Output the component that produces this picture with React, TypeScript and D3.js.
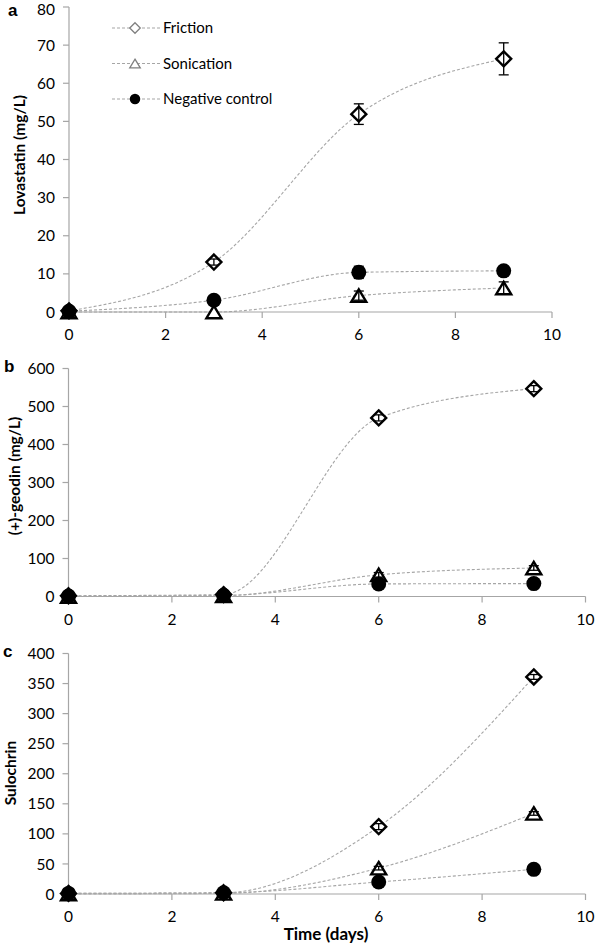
import React from "react";
import * as d3 from "d3";

const DAYS = [0, 3, 6, 9];
const X_TICKS = [0, 2, 4, 6, 8, 10];
const SERIES_NAMES = ["Friction", "Sonication", "Negative control"];

// Panel a: Lovastatin (mg/L)
const lovFriction = [0.3, 13.1, 51.9, 66.4];
const lovFrictionErr = [0.3, 0.8, 2.7, 4.2];
const lovSonication = [0, 0, 4.3, 6.3];
const lovSonicationErr = [0, 0, 1.2, 1.6];
const lovNegative = [0.2, 3.1, 10.4, 10.8];
const lovNegativeErr = [0.1, 0.5, 1.6, 0.6];
const lovTicks = [0, 10, 20, 30, 40, 50, 60, 70, 80];

// Panel b: (+)-geodin (mg/L)
const geoFriction = [2, 5, 470, 547];
const geoFrictionErr = [1, 2, 8, 8];
const geoSonication = [0, 2, 57, 75];
const geoSonicationErr = [0, 1, 6, 6];
const geoNegative = [1, 3, 33, 34];
const geoNegativeErr = [0.5, 1, 3, 3];
const geoTicks = [0, 100, 200, 300, 400, 500, 600];

// Panel c: Sulochrin
const sulFriction = [1, 2, 112, 361];
const sulFrictionErr = [0.5, 1, 5, 4];
const sulSonication = [0, 1, 43, 134];
const sulSonicationErr = [0, 0.5, 3, 3];
const sulNegative = [1, 2, 20, 41];
const sulNegativeErr = [0.5, 1, 2, 2];
const sulTicks = [0, 50, 100, 150, 200, 250, 300, 350, 400];

const FONT = "Lato, 'Open Sans', sans-serif";
const AXIS_COLOR = "#a6a6a6";
const LINE_COLOR = "#a6a6a6";

type Panel = {
  letter: string;
  letterX: number;
  letterY: number;
  title: string;
  titleX: number;
  titleY: number;
  x0: number;
  x1: number;
  yTop: number;
  yBottom: number;
  ticks: number[];
  series: { values: number[]; err: number[]; kind: string }[];
  legend?: boolean;
};

const panels: Panel[] = [
  {
    letter: "a",
    letterX: 8,
    letterY: 16,
    title: "Lovastatin (mg/L)",
    titleX: 25,
    titleY: 155,
    x0: 69,
    x1: 552,
    yTop: 7,
    yBottom: 312,
    ticks: lovTicks,
    series: [
      { values: lovFriction, err: lovFrictionErr, kind: "diamond" },
      { values: lovSonication, err: lovSonicationErr, kind: "triangle" },
      { values: lovNegative, err: lovNegativeErr, kind: "circle" },
    ],
    legend: true,
  },
  {
    letter: "b",
    letterX: 4,
    letterY: 372,
    title: "(+)-geodin (mg/L)",
    titleX: 20,
    titleY: 476,
    x0: 68.5,
    x1: 585.5,
    yTop: 368.5,
    yBottom: 596.5,
    ticks: geoTicks,
    series: [
      { values: geoFriction, err: geoFrictionErr, kind: "diamond" },
      { values: geoSonication, err: geoSonicationErr, kind: "triangle" },
      { values: geoNegative, err: geoNegativeErr, kind: "circle" },
    ],
  },
  {
    letter: "c",
    letterX: 3,
    letterY: 657,
    title: "Sulochrin",
    titleX: 16,
    titleY: 773,
    x0: 68.5,
    x1: 585.5,
    yTop: 653.5,
    yBottom: 894,
    ticks: sulTicks,
    series: [
      { values: sulFriction, err: sulFrictionErr, kind: "diamond" },
      { values: sulSonication, err: sulSonicationErr, kind: "triangle" },
      { values: sulNegative, err: sulNegativeErr, kind: "circle" },
    ],
  },
];

function Marker({ kind, x, y, s = 1, legend = false }: { kind: string; x: number; y: number; s?: number; legend?: boolean }) {
  const stroke = legend && kind !== "circle" ? "#7f7f7f" : "#000";
  const sw = legend ? 1.3 : 2.4;
  if (kind === "diamond") {
    const w = 7.5 * s, h = 7.5 * s;
    return <path d={`M${x},${y - h}L${x + w},${y}L${x},${y + h}L${x - w},${y}Z`} fill="#fff" stroke={stroke} strokeWidth={sw} />;
  }
  if (kind === "triangle") {
    const w = 7.5 * s, h = 6.2 * s;
    return <path d={`M${x},${y - h}L${x + w},${y + h}L${x - w},${y + h}Z`} fill="#fff" stroke={stroke} strokeWidth={sw} strokeLinejoin="miter" />;
  }
  return <circle cx={x} cy={y} r={7.5 * s} fill="#000" />;
}

function PanelView({ p }: { p: Panel }) {
  const x = d3.scaleLinear().domain([0, 10]).range([p.x0, p.x1]);
  const yMax = p.ticks[p.ticks.length - 1];
  const y = d3.scaleLinear().domain([0, yMax]).range([p.yBottom, p.yTop]);
  const line = d3
    .line<number>()
    .x((_, i) => x(DAYS[i]))
    .y((d) => y(d))
    .curve(d3.curveMonotoneX);
  return (
    <g>
      <text x={p.letterX} y={p.letterY} fontFamily="Arial, sans-serif" fontWeight="bold" fontSize={17}>
        {p.letter}
      </text>
      {/* y axis */}
      <line x1={p.x0} x2={p.x0} y1={p.yTop} y2={p.yBottom} stroke={AXIS_COLOR} strokeWidth={1.2} />
      {p.ticks.map((t) => (
        <g key={t}>
          <line x1={p.x0 - 6} x2={p.x0} y1={y(t)} y2={y(t)} stroke={AXIS_COLOR} strokeWidth={1.2} />
          <text x={p.x0 - 14} y={Math.max(y(t), 9.5)} dy="0.36em" textAnchor="end" fontFamily={FONT} fontSize={15.5} fill="#000">
            {t}
          </text>
        </g>
      ))}
      {/* x axis */}
      <line x1={p.x0} x2={p.x1} y1={p.yBottom} y2={p.yBottom} stroke={AXIS_COLOR} strokeWidth={1.2} />
      {X_TICKS.map((t) => (
        <g key={t}>
          <line x1={x(t)} x2={x(t)} y1={p.yBottom} y2={p.yBottom + 6} stroke={AXIS_COLOR} strokeWidth={1.2} />
          <text x={x(t)} y={p.yBottom + 28} textAnchor="middle" fontFamily={FONT} fontSize={15.5} fill="#000">
            {t}
          </text>
        </g>
      ))}
      <text
        transform={`translate(${p.titleX},${p.titleY}) rotate(-90)`}
        textAnchor="middle"
        fontFamily={FONT}
        fontWeight="bold"
        fontSize={15.5}
      >
        {p.title}
      </text>
      {/* lines */}
      {p.series.map((s, i) => (
        <path key={"l" + i} d={line(s.values) || ""} fill="none" stroke={LINE_COLOR} strokeWidth={1.1} strokeDasharray="3,2" />
      ))}
      {/* markers */}
      {p.series.map((s, i) => (
        <g key={"m" + i}>
          {s.values.map((v, j) => (
            <Marker key={j} kind={s.kind} x={x(DAYS[j])} y={y(v)} />
          ))}
        </g>
      ))}
      {/* error bars */}
      {p.series.map((s, i) => (
        <g key={"e" + i} stroke="#000" strokeWidth={1.3}>
          {s.values.map((v, j) => {
            const e = s.err[j];
            if (!e) return null;
            const cx = x(DAYS[j]);
            const t = y(v + e), b = y(v - e);
            return (
              <g key={j}>
                <line x1={cx} x2={cx} y1={t} y2={b} />
                <line x1={cx - 5} x2={cx + 5} y1={t} y2={t} />
                <line x1={cx - 5} x2={cx + 5} y1={b} y2={b} />
              </g>
            );
          })}
        </g>
      ))}
      {p.legend &&
        SERIES_NAMES.map((name, i) => {
          const ly = 28 + i * 35.5;
          return (
            <g key={name}>
              <line x1={112} x2={161} y1={ly} y2={ly} stroke={LINE_COLOR} strokeWidth={1.1} strokeDasharray="3,2" />
              <Marker kind={p.series[i].kind} x={135} y={ly} s={0.7} legend />
              <text x={163} y={ly} dy="0.36em" fontFamily={FONT} fontSize={15}>
                {name}
              </text>
            </g>
          );
        })}
    </g>
  );
}

export default function App() {
  return (
    <svg width={600} height={945} style={{ position: "absolute", left: 0, top: 0, background: "#fff" }}>
      <rect width={600} height={945} fill="#fff" />
      {panels.map((p) => (
        <PanelView key={p.letter} p={p} />
      ))}
      <text x={326} y={940} textAnchor="middle" fontFamily={FONT} fontWeight="bold" fontSize={17}>
        Time (days)
      </text>
    </svg>
  );
}
